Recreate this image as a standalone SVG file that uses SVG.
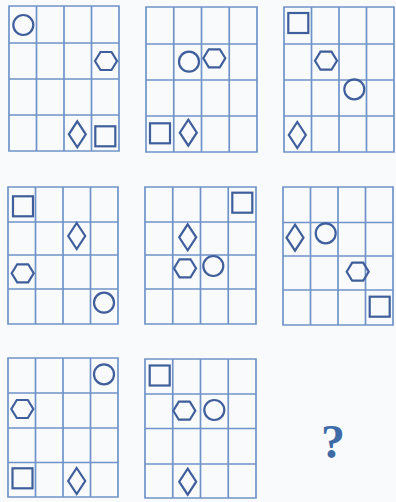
<svg xmlns="http://www.w3.org/2000/svg" width="396" height="502" viewBox="0 0 396 502">
<style>
.grid{fill:none;stroke:#6f93c9;stroke-width:1.7}
.sh{fill:none;stroke:#3f5f9c;stroke-width:2.2}
.q{font-family:"Liberation Serif",serif;font-weight:bold;font-size:48px;fill:#3e6aa6}
</style>
<defs>
<circle id="ci" r="10"/>
<polygon id="hx" points="-11,0 -5.5,-9 5.5,-9 11,0 5.5,9 -5.5,9"/>
<polygon id="dm" points="0,-13 8.5,0 0,13 -8.5,0"/>
<rect id="sq" x="-10" y="-10" width="20" height="20"/>
</defs>
<rect width="396" height="502" fill="#f9fafb"/>
<g id="panel1">
<path class="grid" d="M9,6H119V151H9Z M36.5,6V151 M64,6V151 M91.5,6V151 M9,43H119 M9,79H119 M9,115H119"/>
<use class="sh" href="#ci" x="23.3" y="25"/>
<use class="sh" href="#hx" x="106" y="61"/>
<use class="sh" href="#dm" x="77.3" y="134.3"/>
<use class="sh" href="#sq" x="105.3" y="136.3"/>
</g>
<g id="panel2">
<path class="grid" d="M146,7H257V152H146Z M173.75,7V152 M201.5,7V152 M229.25,7V152 M146,44H257 M146,80H257 M146,116H257"/>
<use class="sh" href="#ci" x="189" y="61.7"/>
<use class="sh" href="#hx" x="214.3" y="58.3"/>
<use class="sh" href="#sq" x="160" y="133.3"/>
<use class="sh" href="#dm" x="188.3" y="132.7"/>
</g>
<g id="panel3">
<path class="grid" d="M284,7H394V152H284Z M311.5,7V152 M339,7V152 M366.5,7V152 M284,44H394 M284,80H394 M284,116H394"/>
<use class="sh" href="#sq" x="298.3" y="23"/>
<use class="sh" href="#hx" x="326" y="60.7"/>
<use class="sh" href="#ci" x="354.3" y="89.3"/>
<use class="sh" href="#dm" x="297.3" y="135"/>
</g>
<g id="panel4">
<path class="grid" d="M8,187H118V324H8Z M35.5,187V324 M63,187V324 M90.5,187V324 M8,222H118 M8,255H118 M8,289H118"/>
<use class="sh" href="#sq" x="23" y="206.3"/>
<use class="sh" href="#dm" x="76.7" y="236"/>
<use class="sh" href="#hx" x="22.7" y="273.3"/>
<use class="sh" href="#ci" x="104" y="302.7"/>
</g>
<g id="panel5">
<path class="grid" d="M145,187H256V324H145Z M172.75,187V324 M200.5,187V324 M228.25,187V324 M145,222H256 M145,255H256 M145,289H256"/>
<use class="sh" href="#sq" x="242.3" y="202.7"/>
<use class="sh" href="#dm" x="187.7" y="237.3"/>
<use class="sh" href="#hx" x="185" y="268.3"/>
<use class="sh" href="#ci" x="213.3" y="266"/>
</g>
<g id="panel6">
<path class="grid" d="M283,187H393V325H283Z M310.5,187V325 M338,187V325 M365.5,187V325 M283,222.5H393 M283,256H393 M283,290H393"/>
<use class="sh" href="#dm" x="295" y="237.7"/>
<use class="sh" href="#ci" x="325.7" y="233.3"/>
<use class="sh" href="#hx" x="357.7" y="271.7"/>
<use class="sh" href="#sq" x="379.7" y="306.7"/>
</g>
<g id="panel7">
<path class="grid" d="M8,358H118V497H8Z M35.5,358V497 M63,358V497 M90.5,358V497 M8,393H118 M8,428H118 M8,462.5H118"/>
<use class="sh" href="#ci" x="104" y="374.3"/>
<use class="sh" href="#hx" x="22.3" y="409"/>
<use class="sh" href="#sq" x="22.5" y="478.3"/>
<use class="sh" href="#dm" x="76.7" y="481"/>
</g>
<g id="panel8">
<path class="grid" d="M145,359H256V498H145Z M172.75,359V498 M200.5,359V498 M228.25,359V498 M145,394H256 M145,428.5H256 M145,464H256"/>
<use class="sh" href="#sq" x="159.7" y="375.5"/>
<use class="sh" href="#hx" x="184.3" y="410.7"/>
<use class="sh" href="#ci" x="214.3" y="410"/>
<use class="sh" href="#dm" x="187.7" y="481.7"/>
</g>
<g id="question">
<text class="q" x="333" y="458" text-anchor="middle">?</text>
</g>
<g id="connectors"></g>
</svg>
